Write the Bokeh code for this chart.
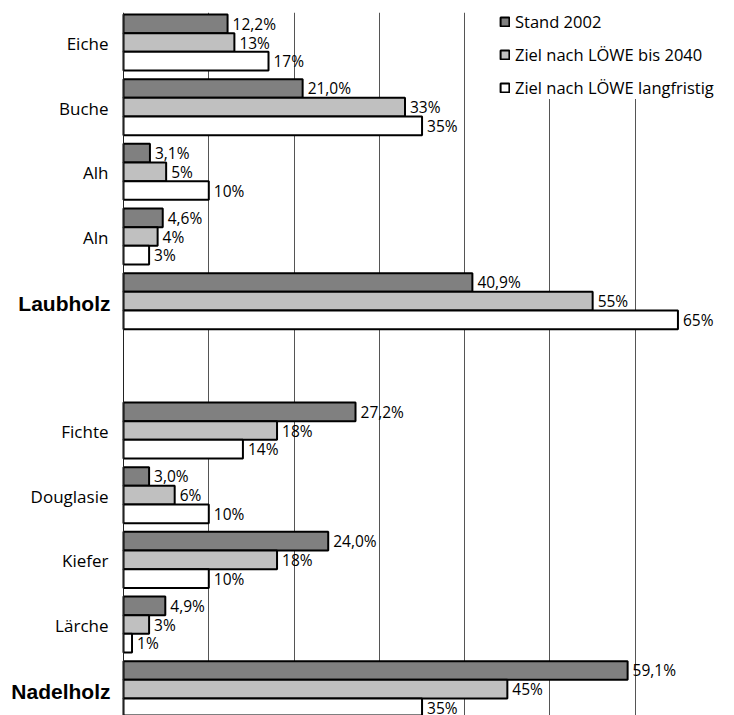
from bokeh.plotting import figure
from bokeh.models import Range1d, FixedTicker, Legend, LegendItem, Span
from bokeh.embed import file_html
from bokeh.resources import INLINE
from bokeh.core.properties import value

# ---- data -----------------------------------------------------------
categories = ["Eiche", "Buche", "Alh", "Aln", "Laubholz",
              "Fichte", "Douglasie", "Kiefer", "Lärche", "Nadelholz"]
totals = ["Laubholz", "Nadelholz"]
group_sizes = [5, 5]
stand_2002 = [12.2, 21.0, 3.1, 4.6, 40.9, 27.2, 3.0, 24.0, 4.9, 59.1]
ziel_2040 = [13, 33, 5, 4, 55, 18, 6, 18, 3, 45]
ziel_langfristig = [17, 35, 10, 3, 65, 14, 10, 10, 1, 35]
series_names = ["Stand 2002", "Ziel nach LÖWE bis 2040", "Ziel nach LÖWE langfristig"]
grid_ticks = [10, 20, 30, 40, 50, 60]

# ---- layout helpers ---------------------------------------------------
slots = []
pos = 0
for n in group_sizes:
    for _ in range(n):
        slots.append(pos)
        pos += 1
    pos += 1  # empty slot between groups

BAR_H = 0.289
offsets = [-BAR_H, 0.0, BAR_H]
fills = ["#808080", "#c0c0c0", "#ffffff"]
FONT = "Open Sans"

p = figure(width=734, height=715, output_backend="svg", toolbar_location=None,
           x_range=Range1d(-14.42, 71.63), y_range=Range1d(10.407, -0.464),
           x_axis_location=None, y_axis_location=None,
           min_border_left=0, min_border_right=0,
           min_border_top=12, min_border_bottom=0)
p.outline_line_color = None
p.background_fill_color = "white"

p.xgrid.ticker = FixedTicker(ticks=grid_ticks)
p.xgrid.grid_line_color = "#555555"
p.xgrid.grid_line_width = 1
p.ygrid.visible = False

p.add_layout(Span(location=0, dimension="height", line_color="#222222", line_width=1))

series = [stand_2002, ziel_2040, ziel_langfristig]
renderers = []
for k, vals in enumerate(series):
    ys = [s + offsets[k] for s in slots]
    r = p.hbar(y=ys, left=0, right=vals, height=BAR_H, fill_color=fills[k],
               line_color="black", line_width=2)
    renderers.append(r)
    if k == 0:
        labels = [(f"{v:.1f}".replace(".", ",") + "%") for v in vals]
    else:
        labels = [f"{v:.0f}%" for v in vals]
    p.text(x=vals, y=ys, text=labels, x_offset=5, y_offset=0,
           text_baseline="middle", text_align="left",
           text_font=value(FONT), text_font_size="15.5px", text_color="black")

reg_names = [c for c in categories if c not in totals]
reg_y = [s for c, s in zip(categories, slots) if c not in totals]
tot_names = [c for c in categories if c in totals]
tot_y = [s for c, s in zip(categories, slots) if c in totals]

p.text(x=[0] * len(reg_names), y=reg_y, text=reg_names, x_offset=-15, y_offset=1,
       text_align="right", text_baseline="middle", text_font=value(FONT),
       text_font_size="17px", text_color="black")
p.text(x=[0] * len(tot_names), y=tot_y, text=tot_names, x_offset=-13, y_offset=2,
       text_align="right", text_baseline="middle", text_font=value("Liberation Sans"),
       text_font_style="bold", text_font_size="21px", text_color="black")

legend = Legend(items=[LegendItem(label=n, renderers=[r]) for n, r in zip(series_names, renderers)],
                location=(499, 616), orientation="vertical", padding=0, margin=0,
                spacing=10, glyph_width=11, glyph_height=11, label_standoff=5,
                label_height=20, label_text_font=FONT, label_text_font_size="16.5px",
                label_text_color="black",
                border_line_color=None, background_fill_color="white",
                background_fill_alpha=1.0)
p.add_layout(legend)

open("out.html", "w").write(file_html(p, INLINE))
